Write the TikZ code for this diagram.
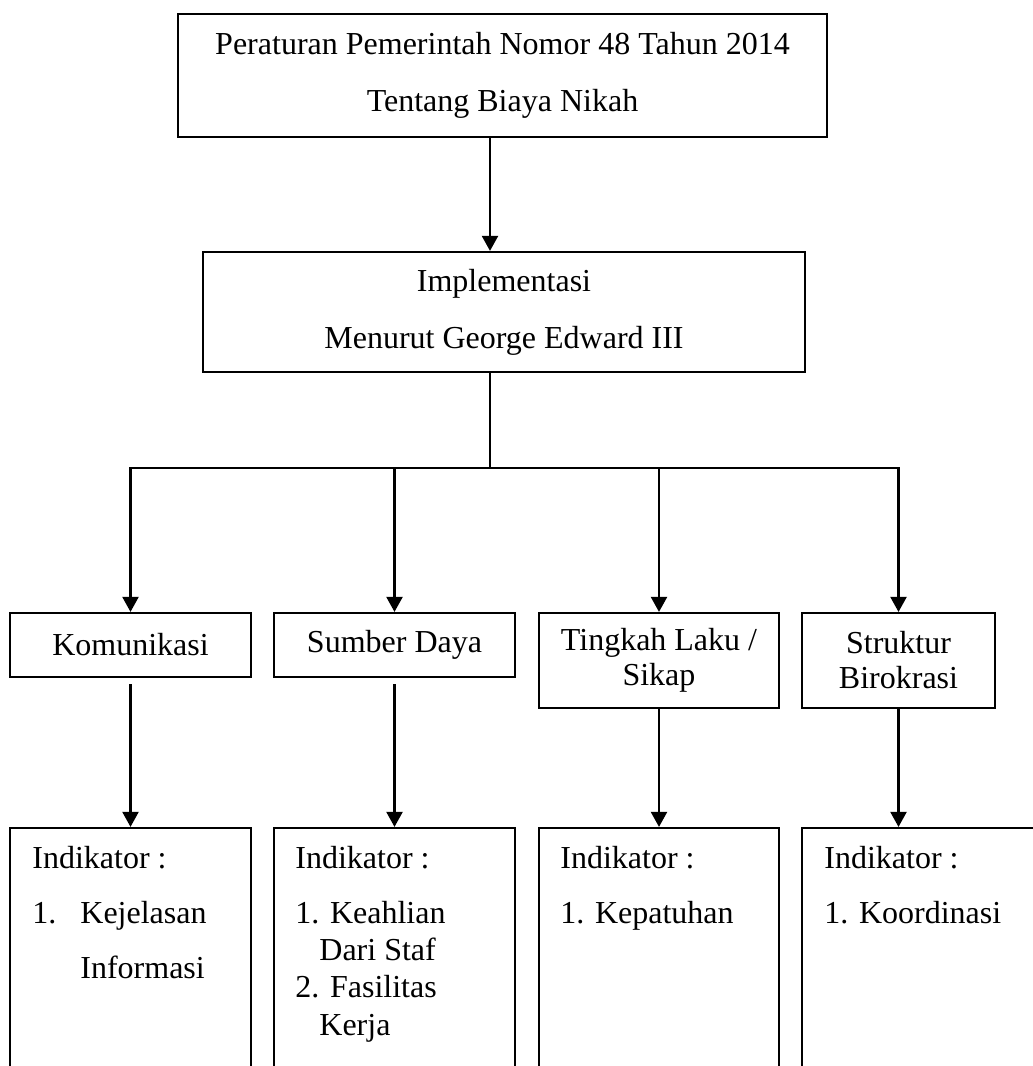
\documentclass[tikz,border=0pt]{standalone}
\usepackage{fontspec}
\setmainfont{Liberation Serif}
\usetikzlibrary{arrows.meta}

\tikzset{
  box/.style={draw, line width=1.1pt, inner sep=0pt, align=center},
  arr/.style={-{Triangle[width=8pt,length=7.5pt]}, line width=1.1pt},
  bar/.style={line width=1.1pt},
  lbl/.style={anchor=base west, inner sep=0pt},
}

\begin{document}
\begin{tikzpicture}[x=.5pt,y=-.5pt,font=\fontsize{16}{19}\selectfont]
    \clip (0,0) rectangle (1033,1066);
    % regulation and theory
    \node[box, minimum width=324.5pt, minimum height=61.5pt, font=\fontsize{16}{28.5}\selectfont] (pp) at (502.5,75.5)
      {Peraturan Pemerintah Nomor 48 Tahun 2014\\Tentang Biaya Nikah};
    \node[box, minimum width=301pt, minimum height=60pt, font=\fontsize{16}{28.5}\selectfont] (impl) at (504,312)
      {Implementasi\\Menurut George Edward III};
    \coordinate (trunk) at (490,468);
    \draw[arr] (pp.south -| trunk) -- (impl.north -| trunk);
    % four variables
    \node[box, minimum width=120.5pt, minimum height=32pt] (kom) at (130.5,645) {Komunikasi};
    \node[box, minimum width=120.5pt, minimum height=32pt] (sum) at (394.5,645) {Sumber Daya};
    \node[box, minimum width=120pt, minimum height=47.5pt, font=\fontsize{16}{17.5}\selectfont] (ting) at (659,660.5)
      {Tingkah Laku /\\Sikap};
    \node[box, minimum width=96.5pt, minimum height=47.5pt, font=\fontsize{16}{17.5}\selectfont] (str) at (898.5,660.5)
      {Struktur\\Birokrasi};
    \draw[bar] (impl.south -| trunk) -- (trunk);
    \draw[bar, line cap=rect] (trunk -| kom.north) -- (trunk -| str.north);
    \foreach \v in {kom,sum,ting,str}
      \draw[arr] (trunk -| \v.north) -- (\v.north);
    % indicators
    \node[box, minimum width=120.5pt, minimum height=136pt] (ind1) at (130.5,964) {};
    \node[box, minimum width=120.5pt, minimum height=136pt] (ind2) at (394.5,964) {};
    \node[box, minimum width=120pt, minimum height=136pt] (ind3) at (659,964) {};
    \node[box, minimum width=129pt, minimum height=136pt] (ind4) at (931,964) {};
    \draw[arr, shorten <=3pt] (kom.south) -- (ind1.north);
    \draw[arr, shorten <=3pt] (sum.south) -- (ind2.north);
    \draw[arr] (ting.south) -- (ting.south |- ind3.north);
    \draw[arr] (str.south) -- (str.south |- ind4.north);
    \node[lbl] (i1a) at (32,868) {Indikator :};
    \node[lbl] (i1b) at (32,923) {1.};
    \node[lbl] (i1c) at (80,923) {Kejelasan};
    \node[lbl] (i1d) at (80,978) {Informasi};
    \node[lbl] (i2a) at (295,868) {Indikator :};
    \node[lbl] (i2b) at (295,923) {1. Keahlian};
    \node[lbl] (i2c) at (319,960) {Dari Staf};
    \node[lbl] (i2d) at (295,997) {2. Fasilitas};
    \node[lbl] (i2e) at (319,1035) {Kerja};
    \node[lbl] (i3a) at (560,868) {Indikator :};
    \node[lbl] (i3b) at (560,923) {1. Kepatuhan};
    \node[lbl] (i4a) at (824,868) {Indikator :};
    \node[lbl] (i4b) at (824,923) {1. Koordinasi};
\end{tikzpicture}
\end{document}
